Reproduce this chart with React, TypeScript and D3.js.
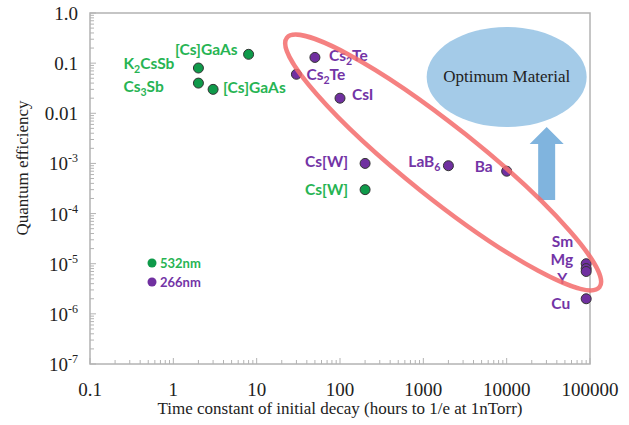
import React from "react";
import * as d3 from "d3";

// Photocathode materials: lifetime (hours to 1/e at 1 nTorr) vs quantum efficiency
const greenNames = ["[Cs]GaAs", "K2CsSb", "Cs3Sb", "[Cs]GaAs", "Cs[W]"];
const greenLife = [8, 2, 2, 3, 200];
const greenQE = [0.15, 0.08, 0.04, 0.03, 3e-4];

const purpleNames = ["Cs2Te", "Cs2Te", "CsI", "Cs[W]", "LaB6", "Ba", "Sm", "Mg", "Y", "Cu"];
const purpleLife = [50, 30, 100, 200, 2000, 10000, 90000, 90000, 90000, 90000];
const purpleQE = [0.13, 0.06, 0.02, 1e-3, 9e-4, 7e-4, 1e-5, 8e-6, 7e-6, 2e-6];

const xTickValues = [0.1, 1, 10, 100, 1000, 10000, 100000];
const xTickLabels = ["0.1", "1", "10", "100", "1000", "10000", "100000"];
const yTickValues = [1, 0.1, 0.01, 1e-3, 1e-4, 1e-5, 1e-6, 1e-7];
const yTickLabels = ["1.0", "0.1", "0.01", "10^-3", "10^-4", "10^-5", "10^-6", "10^-7"];

const legendNames = ["532nm", "266nm"];

// Band of known materials (end points in data space) and the target region
const bandStart = [23, 0.32];
const bandEnd = [130000, 3.4e-6];
const optimumCenter = [10000, 0.053];

// label placement: [dx, dy, anchor]
const greenLabelPos: [number, number, string][] = [
  [-11, 1, "end"],
  [-75, 1, "start"],
  [-75, 9, "start"],
  [10, 4, "start"],
  [-17, 5, "end"],
];
const purpleLabelPos: [number, number, string][] = [
  [14, 4, "start"],
  [10, 6, "start"],
  [12, 2, "start"],
  [-17, 4, "end"],
  [-8, 1, "end"],
  [-14, 1, "end"],
  [-13, -17, "end"],
  [-13, -4, "end"],
  [-19, 13, "end"],
  [-16, 10, "end"],
];

const W = 629;
const H = 425;
const left = 90, right = 590, top = 13, bottom = 364;

const GREEN_FILL = "#0f9a4a";
const GREEN_TEXT = "#27b453";
const PURPLE_FILL = "#7030a0";
const PURPLE_TEXT = "#7334a6";
const AXIS = "#b3b3b3";
const LABEL_SIZE = 15.5;

function Chem({ name, fontSize }: { name: string; fontSize: number }) {
  const parts = name.match(/\d+|\D+/g) || [];
  const out: React.ReactNode[] = [];
  let shifted = false;
  parts.forEach((p, i) => {
    if (/^\d+$/.test(p)) {
      out.push(
        <tspan key={i} fontSize={fontSize * 0.68} dy={4}>
          {p}
        </tspan>
      );
      shifted = true;
    } else {
      out.push(
        <tspan key={i} dy={shifted ? -4 : 0}>
          {p}
        </tspan>
      );
      shifted = false;
    }
  });
  return <>{out}</>;
}

export default function App() {
  const x = d3.scaleLog().domain([0.1, 1e5]).range([left, right]);
  const y = d3.scaleLog().domain([1e-7, 1]).range([bottom, top]);

  const xMinor: number[] = [];
  for (let e = -1; e < 5; e++) for (let k = 2; k <= 9; k++) xMinor.push(k * Math.pow(10, e));
  const yMinor: number[] = [];
  for (let e = -7; e < 0; e++) for (let k = 2; k <= 9; k++) yMinor.push(k * Math.pow(10, e));

  // highlight band geometry
  const x1 = x(bandStart[0]), y1 = y(bandStart[1]);
  const x2 = x(bandEnd[0]), y2 = y(bandEnd[1]);
  const bcx = (x1 + x2) / 2, bcy = (y1 + y2) / 2;
  const brx = Math.hypot(x2 - x1, y2 - y1) / 2;
  const bang = (Math.atan2(y2 - y1, x2 - x1) * 180) / Math.PI;

  const ocx = x(optimumCenter[0]);
  const ocy = y(optimumCenter[1]);
  const orx = 80, ory = 50;

  // arrow pointing up toward the target region
  const ax = ocx + 40;
  const aTip = ocy + ory;
  const aBase = aTip + 73;
  const arrow = d3.path();
  arrow.moveTo(ax, aTip);
  arrow.lineTo(ax + 17, aTip + 17);
  arrow.lineTo(ax + 8.5, aTip + 17);
  arrow.lineTo(ax + 8.5, aBase);
  arrow.lineTo(ax - 8.5, aBase);
  arrow.lineTo(ax - 8.5, aTip + 17);
  arrow.lineTo(ax - 17, aTip + 17);
  arrow.closePath();

  const labelFont = "Lato, 'Open Sans', sans-serif";
  const serif = "'Liberation Serif', 'Times New Roman', serif";

  return (
    <svg
      width={W}
      height={H}
      viewBox={`0 0 ${W} ${H}`}
      style={{ position: "absolute", left: 0, top: 0, background: "#fff" }}
    >
      {/* frame */}
      <rect x={left} y={top} width={right - left} height={bottom - top} fill="none" stroke={AXIS} strokeWidth={1.5} />

      {/* x ticks */}
      {xTickValues.map((v) => (
        <line key={"xM" + v} x1={x(v)} x2={x(v)} y1={bottom} y2={bottom - 6} stroke={AXIS} strokeWidth={1} />
      ))}
      {xMinor.map((v) => (
        <line key={"xm" + v} x1={x(v)} x2={x(v)} y1={bottom} y2={bottom - 4} stroke={AXIS} strokeWidth={1} />
      ))}
      {/* y ticks */}
      {yTickValues.map((v) => (
        <line key={"yM" + v} x1={left} x2={left + 6} y1={y(v)} y2={y(v)} stroke={AXIS} strokeWidth={1} />
      ))}
      {yMinor.map((v) => (
        <line key={"ym" + v} x1={left} x2={left + 4} y1={y(v)} y2={y(v)} stroke={AXIS} strokeWidth={1} />
      ))}

      {/* x tick labels */}
      {xTickValues.map((v, i) => (
        <text key={"xl" + v} x={x(v)} y={396} textAnchor="middle" fontFamily={serif} fontSize={19} fill="#222">
          {xTickLabels[i]}
        </text>
      ))}
      {/* y tick labels */}
      {yTickValues.map((v, i) => {
        const lab = yTickLabels[i];
        const [base, exp] = lab.split("^");
        return (
          <text key={"yl" + v} x={78} y={y(v) + 7} textAnchor="end" fontFamily={serif} fontSize={19} fill="#222">
            {base}
            {exp !== undefined && (
              <tspan fontSize={12} dy={-8}>
                {exp}
              </tspan>
            )}
          </text>
        );
      })}

      {/* axis titles */}
      <text x={(left + right) / 2} y={414} textAnchor="middle" fontFamily={serif} fontSize={17} fill="#222">
        Time constant of initial decay (hours to 1/e at 1nTorr)
      </text>
      <text
        transform={`translate(28,168) rotate(-90)`}
        textAnchor="middle"
        fontFamily={serif}
        fontSize={17}
        fill="#222"
      >
        Quantum efficiency
      </text>

      {/* target region */}
      <ellipse cx={ocx} cy={ocy} rx={orx} ry={ory} fill="#a4cbe8" />
      <text x={ocx} y={ocy + 5} textAnchor="middle" fontFamily={serif} fontSize={17} fill="#222">
        Optimum Material
      </text>
      <path d={arrow.toString()} fill="#80b4de" />

      {/* green series */}
      {greenLife.map((v, i) => (
        <circle key={"g" + i} cx={x(v)} cy={y(greenQE[i])} r={5} fill={GREEN_FILL} stroke="#333" strokeWidth={1} />
      ))}
      {greenNames.map((n, i) => {
        const [dx, dy, anchor] = greenLabelPos[i];
        return (
          <text
            key={"gl" + i}
            x={x(greenLife[i]) + dx}
            y={y(greenQE[i]) + dy}
            textAnchor={anchor as any}
            fontFamily={labelFont}
            fontWeight={700}
            fontSize={LABEL_SIZE}
            fill={GREEN_TEXT}
          >
            <Chem name={n} fontSize={LABEL_SIZE} />
          </text>
        );
      })}

      {/* purple series */}
      {purpleLife.map((v, i) => (
        <circle key={"p" + i} cx={x(v)} cy={y(purpleQE[i])} r={5} fill={PURPLE_FILL} stroke="#333" strokeWidth={1} />
      ))}
      {purpleNames.map((n, i) => {
        const [dx, dy, anchor] = purpleLabelPos[i];
        return (
          <text
            key={"pl" + i}
            x={x(purpleLife[i]) + dx}
            y={y(purpleQE[i]) + dy}
            textAnchor={anchor as any}
            fontFamily={labelFont}
            fontWeight={700}
            fontSize={LABEL_SIZE}
            fill={PURPLE_TEXT}
          >
            <Chem name={n} fontSize={LABEL_SIZE} />
          </text>
        );
      })}

      {/* band of existing cathodes */}
      <ellipse
        cx={bcx}
        cy={bcy}
        rx={brx}
        ry={36}
        transform={`rotate(${bang},${bcx},${bcy})`}
        fill="none"
        stroke="#f36b6b"
        strokeOpacity={0.85}
        strokeWidth={4.5}
      />

      {/* legend */}
      {legendNames.map((n, i) => (
        <g key={"lg" + i}>
          <circle cx={152} cy={263 + i * 19} r={4.5} fill={i === 0 ? GREEN_FILL : PURPLE_FILL} />
          <text
            x={160}
            y={268 + i * 19}
            fontFamily={labelFont}
            fontWeight={700}
            fontSize={13}
            fill={i === 0 ? GREEN_TEXT : PURPLE_TEXT}
          >
            {n}
          </text>
        </g>
      ))}
    </svg>
  );
}
